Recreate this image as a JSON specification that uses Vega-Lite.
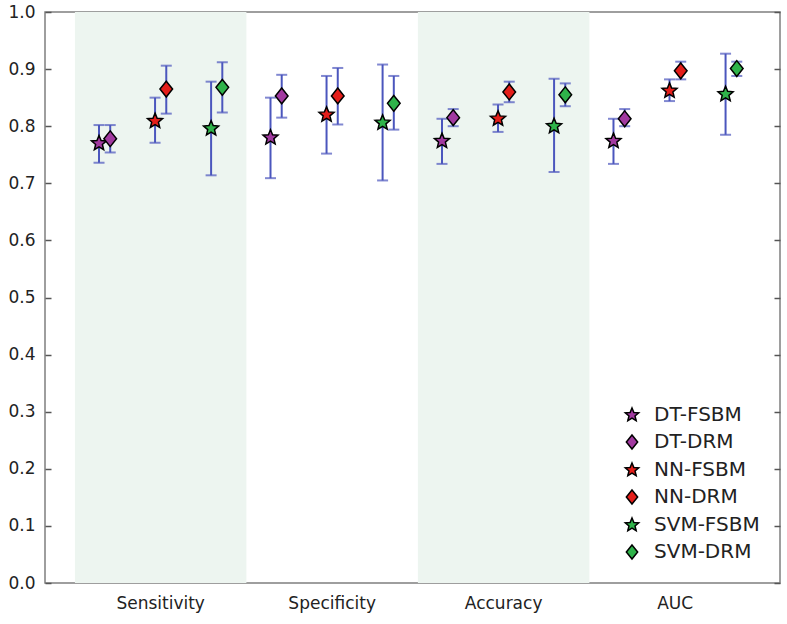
{
  "$schema": "https://vega.github.io/schema/vega-lite/v6.json",
  "width": 735,
  "height": 571,
  "autosize": {"type": "none"},
  "padding": {"left": 45, "top": 12, "right": 7, "bottom": 41},
  "background": "white",
  "config": {
    "view": {"stroke": "#7f7f7f", "strokeWidth": 1.5},
    "font": "DejaVu Sans",
    "axis": {"labelFont": "DejaVu Sans", "labelColor": "#222222", "labelFontSize": 17, "grid": false, "domain": false}
  },
  "datasets": {
    "bands": [{"metric": "Sensitivity"}, {"metric": "Accuracy"}],
    "scores": [
      {"metric": "Sensitivity", "model": "DT-FSBM", "value": 0.770, "lo": 0.736, "hi": 0.802},
      {"metric": "Sensitivity", "model": "DT-DRM", "value": 0.778, "lo": 0.754, "hi": 0.802},
      {"metric": "Sensitivity", "model": "NN-FSBM", "value": 0.809, "lo": 0.771, "hi": 0.850},
      {"metric": "Sensitivity", "model": "NN-DRM", "value": 0.865, "lo": 0.822, "hi": 0.906},
      {"metric": "Sensitivity", "model": "SVM-FSBM", "value": 0.796, "lo": 0.714, "hi": 0.878},
      {"metric": "Sensitivity", "model": "SVM-DRM", "value": 0.868, "lo": 0.824, "hi": 0.912},
      {"metric": "Specificity", "model": "DT-FSBM", "value": 0.780, "lo": 0.709, "hi": 0.850},
      {"metric": "Specificity", "model": "DT-DRM", "value": 0.853, "lo": 0.815, "hi": 0.890},
      {"metric": "Specificity", "model": "NN-FSBM", "value": 0.820, "lo": 0.752, "hi": 0.888},
      {"metric": "Specificity", "model": "NN-DRM", "value": 0.853, "lo": 0.803, "hi": 0.902},
      {"metric": "Specificity", "model": "SVM-FSBM", "value": 0.806, "lo": 0.705, "hi": 0.908},
      {"metric": "Specificity", "model": "SVM-DRM", "value": 0.840, "lo": 0.794, "hi": 0.888},
      {"metric": "Accuracy", "model": "DT-FSBM", "value": 0.774, "lo": 0.734, "hi": 0.813},
      {"metric": "Accuracy", "model": "DT-DRM", "value": 0.815, "lo": 0.800, "hi": 0.830},
      {"metric": "Accuracy", "model": "NN-FSBM", "value": 0.813, "lo": 0.790, "hi": 0.838},
      {"metric": "Accuracy", "model": "NN-DRM", "value": 0.860, "lo": 0.842, "hi": 0.878},
      {"metric": "Accuracy", "model": "SVM-FSBM", "value": 0.800, "lo": 0.720, "hi": 0.883},
      {"metric": "Accuracy", "model": "SVM-DRM", "value": 0.855, "lo": 0.835, "hi": 0.875},
      {"metric": "AUC", "model": "DT-FSBM", "value": 0.774, "lo": 0.734, "hi": 0.813},
      {"metric": "AUC", "model": "DT-DRM", "value": 0.813, "lo": 0.800, "hi": 0.830},
      {"metric": "AUC", "model": "NN-FSBM", "value": 0.862, "lo": 0.844, "hi": 0.882},
      {"metric": "AUC", "model": "NN-DRM", "value": 0.897, "lo": 0.882, "hi": 0.913},
      {"metric": "AUC", "model": "SVM-FSBM", "value": 0.856, "lo": 0.785, "hi": 0.927},
      {"metric": "AUC", "model": "SVM-DRM", "value": 0.901, "lo": 0.888, "hi": 0.913}
    ]
  },
  "layer": [
    {
      "data": {"name": "bands"},
      "mark": {"type": "rect", "color": "#edf5f0"},
      "encoding": {
        "x": {
          "field": "metric", "type": "nominal", "bandPosition": 0,
          "scale": {"domain": ["Sensitivity", "Specificity", "Accuracy", "AUC"], "paddingInner": 0, "paddingOuter": 0.143, "align": 0.61},
          "axis": {"title": null, "labelAngle": 0, "ticks": false, "labelPadding": 12, "labelFontSize": 17}
        },
        "x2": {"field": "metric", "bandPosition": 1},
        "y": {"datum": 0, "type": "quantitative", "scale": {"domain": [0, 1]}, "axis": null},
        "y2": {"datum": 1}
      }
    },
    {
      "data": {"name": "scores"},
      "mark": {"type": "rule", "color": "#4b56bd", "strokeWidth": 2},
      "encoding": {
        "x": {"field": "metric", "type": "nominal"},
        "xOffset": {"field": "model", "type": "nominal", "scale": {"type": "point", "padding": 0.15, "domain": ["e1", "e2", "DT-FSBM", "DT-DRM", "g1", "g2", "g3", "NN-FSBM", "NN-DRM", "g4", "g5", "g6", "SVM-FSBM", "SVM-DRM", "e3", "e4"]}},
        "y": {"field": "lo", "type": "quantitative", "axis": null},
        "y2": {"field": "hi"}
      }
    },
    {
      "data": {"name": "scores"},
      "mark": {"type": "tick", "color": "#4b56bd", "size": 11, "thickness": 2, "orient": "horizontal"},
      "encoding": {
        "x": {"field": "metric", "type": "nominal"},
        "xOffset": {"field": "model", "type": "nominal"},
        "y": {"field": "lo", "type": "quantitative", "axis": null}
      }
    },
    {
      "data": {"name": "scores"},
      "mark": {"type": "tick", "color": "#4b56bd", "size": 11, "thickness": 2, "orient": "horizontal"},
      "encoding": {
        "x": {"field": "metric", "type": "nominal"},
        "xOffset": {"field": "model", "type": "nominal"},
        "y": {"field": "hi", "type": "quantitative", "axis": null}
      }
    },
    {
      "data": {"name": "scores"},
      "mark": {"type": "point", "filled": true, "stroke": "black", "strokeWidth": 1.5, "size": 250, "opacity": 1},
      "encoding": {
        "x": {"field": "metric", "type": "nominal"},
        "xOffset": {"field": "model", "type": "nominal"},
        "y": {"field": "value", "type": "quantitative", "scale": {"domain": [0, 1]},
          "axis": {"title": null, "tickCount": 10, "format": ".1f", "offset": -6, "tickSize": 6, "tickColor": "#555555", "tickWidth": 1.5, "labelPadding": 10, "labelFontSize": 17}},
        "color": {
          "field": "model", "type": "nominal",
          "scale": {"domain": ["DT-FSBM", "DT-DRM", "NN-FSBM", "NN-DRM", "SVM-FSBM", "SVM-DRM"],
            "range": ["#a23aa0", "#a23aa0", "#e41e1a", "#e41e1a", "#2fb34a", "#2fb34a"]},
          "legend": {"title": null, "orient": "bottom-right", "offset": 20, "padding": 0, "labelFontSize": 20, "labelColor": "#222222", "symbolSize": 200, "symbolStrokeColor": "black", "symbolStrokeWidth": 1.5, "rowPadding": 6, "labelOffset": 12}
        },
        "shape": {
          "field": "model", "type": "nominal",
          "scale": {"domain": ["DT-FSBM", "DT-DRM", "NN-FSBM", "NN-DRM", "SVM-FSBM", "SVM-DRM"],
            "range": [
              "M0,-1L0.265,-0.364L0.951,-0.309L0.428,0.139L0.588,0.809L0,0.45L-0.588,0.809L-0.428,0.139L-0.951,-0.309L-0.265,-0.364Z",
              "M0,-1L0.8,0L0,1L-0.8,0Z",
              "M0,-1L0.265,-0.364L0.951,-0.309L0.428,0.139L0.588,0.809L0,0.45L-0.588,0.809L-0.428,0.139L-0.951,-0.309L-0.265,-0.364Z",
              "M0,-1L0.8,0L0,1L-0.8,0Z",
              "M0,-1L0.265,-0.364L0.951,-0.309L0.428,0.139L0.588,0.809L0,0.45L-0.588,0.809L-0.428,0.139L-0.951,-0.309L-0.265,-0.364Z",
              "M0,-1L0.8,0L0,1L-0.8,0Z"
            ]},
          "legend": {"title": null}
        }
      }
    },
    {
      "data": {"name": "bands"},
      "mark": {"type": "rule", "opacity": 0},
      "encoding": {
        "y": {"datum": 0, "type": "quantitative",
          "axis": {"orient": "right", "title": null, "labels": false, "tickCount": 10, "offset": -6, "tickSize": 6, "tickColor": "#555555", "tickWidth": 1.5}}
      }
    }
  ],
  "resolve": {"axis": {"y": "independent"}}
}
